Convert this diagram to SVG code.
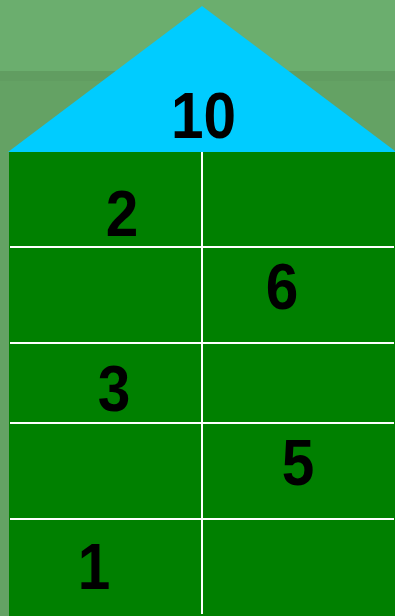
<svg xmlns="http://www.w3.org/2000/svg" width="395" height="616" viewBox="0 0 395 616">
<style>
.num{font-family:"Liberation Sans",Arial,sans-serif;font-weight:bold;font-size:65px;fill:#000;text-anchor:middle}
.grid{stroke:#fff;stroke-width:2;fill:none}
</style>
<rect x="0" y="0" width="395" height="616" fill="#64a264"/>
<rect x="0" y="0" width="395" height="71" fill="#6bae6e"/>
<rect x="0" y="71" width="395" height="10" fill="#619d61"/>
<g id="roof">
<polygon points="8,152 202,6 395,151 395,152" fill="#00ccff"/>
<text class="num" transform="translate(203.5,138) scale(0.9,1)">10</text>
</g>
<g id="body">
<rect x="9" y="152" width="386" height="464" fill="#008000"/>
</g>
<g id="connectors">
<line class="grid" x1="10" y1="247" x2="394" y2="247"/>
<line class="grid" x1="10" y1="343" x2="394" y2="343"/>
<line class="grid" x1="10" y1="423" x2="394" y2="423"/>
<line class="grid" x1="10" y1="519" x2="394" y2="519"/>
<line class="grid" x1="202" y1="152" x2="202" y2="614"/>
</g>
<g id="n2"><text class="num" transform="translate(122,236) scale(0.9,1)">2</text></g>
<g id="n6"><text class="num" transform="translate(282,309) scale(0.9,1)">6</text></g>
<g id="n3"><text class="num" transform="translate(114,411) scale(0.9,1)">3</text></g>
<g id="n5"><text class="num" transform="translate(298,485) scale(0.9,1)">5</text></g>
<g id="n1"><text class="num" transform="translate(94,589) scale(0.9,1)">1</text></g>
</svg>
